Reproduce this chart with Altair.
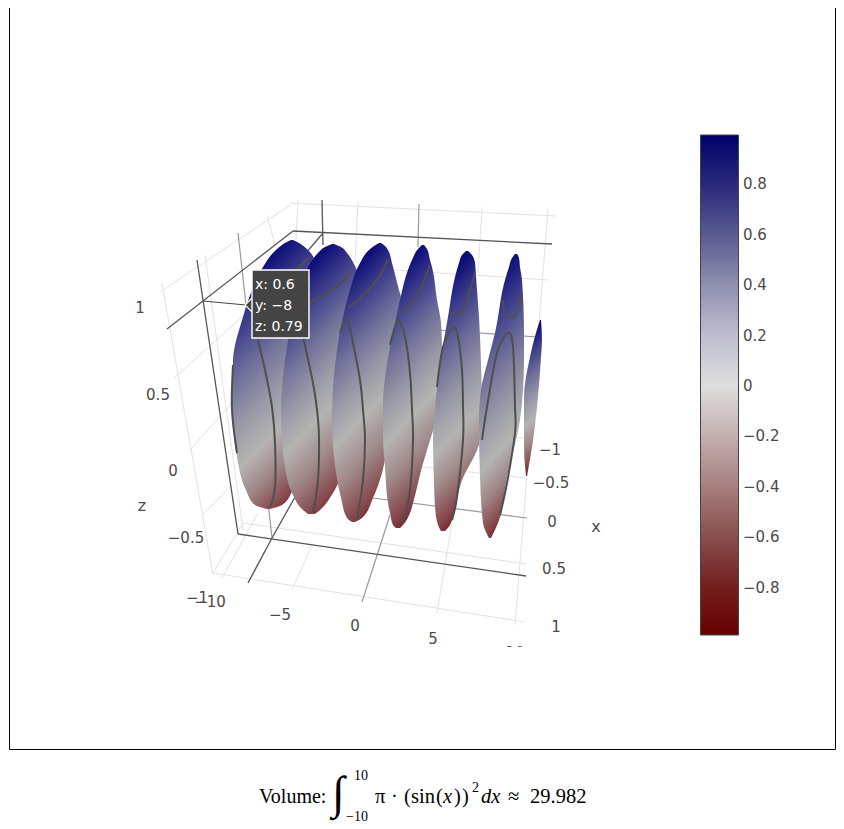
import altair as alt
import pandas as pd

# Page-pixel frame of the 3D scene: everything is projected screen position
W, H = 828, 815
SX = alt.Scale(domain=[8, 836], range=[0, W], nice=False, zero=False)
SY = alt.Scale(domain=[8, 823], range=[0, H], nice=False, zero=False)

# Lobes of the surface of revolution: screen level, left edge, right edge
lobe_levels = [
    [240, 243, 250, 267, 290, 317, 360, 403, 457, 490, 505, 509],
    [244, 247, 253, 262, 280, 347, 377, 417, 467, 493, 510, 514],
    [243, 246, 250, 263, 290, 317, 350, 417, 457, 473, 498, 518, 522],
    [245, 249, 260, 267, 300, 323, 347, 407, 437, 467, 503, 513, 525, 528],
    [251, 255, 263, 277, 317, 363, 410, 483, 507, 525, 531],
    [254, 258, 267, 280, 333, 360, 390, 420, 477, 523, 538],
    [320, 340, 357, 397, 433, 447, 476],
]
lobe_left = [
    [291, 285, 276, 263, 252, 243, 233, 232, 237, 246, 255, 267],
    [332, 325, 318, 311, 302, 287, 283, 281, 285, 292, 303, 308],
    [379, 374, 369, 360, 350, 343, 337, 332, 334, 336, 341, 347, 352],
    [422, 418, 412, 409, 400, 395, 390, 383, 383, 385, 388, 390, 393, 396],
    [466, 462, 459, 455, 448, 440, 435, 434, 435, 438, 441],
    [515, 512, 509, 505, 495, 488, 481, 479, 480, 483, 489],
    [540, 534, 530, 524, 524, 524, 526],
]
lobe_right = [
    [293, 299, 308, 318, 326, 331, 335, 336, 310, 293, 282, 270],
    [334, 341, 347, 353, 360, 372, 375, 372, 345, 333, 320, 315],
    [381, 385, 388, 392, 399, 407, 412, 410, 386, 382, 373, 362, 355],
    [424, 427, 430, 432, 437, 441, 442, 440, 431, 422, 413, 410, 403, 400],
    [468, 472, 475, 476, 479, 481, 482, 480, 461, 455, 450, 445],
    [517, 519, 520, 522, 524, 524, 523, 520, 507, 498, 491],
    [541, 542, 541, 538, 534, 532, 527],
]
lobe_levels[4] = [251, 255, 263, 277, 317, 363, 410, 440, 483, 507, 525, 531]
lobe_left[4] = [466, 462, 459, 455, 448, 440, 435, 433, 434, 435, 438, 441]
# where the grey z=0 band crosses each lobe, and the tilt of the band
lobe_zero = [0.66, 0.60, 0.585, 0.60, 0.64, 0.68, 0.64]
lobe_tilt = [0.38, 0.36, 0.30, 0.22, 0.18, 0.18, 0.10]

# Contour curves on the lobes
contours = [
    [(258, 340), (265, 370), (272, 407), (275, 443), (275, 487), (270, 507)],
    [(308, 258), (300, 266), (293, 272)],
    [(233, 365), (232, 410), (237, 453)],
    [(350, 273), (340, 284), (327, 293), (310, 302)],
    [(303, 337), (313, 383), (317, 410), (319, 437), (318, 480), (313, 512)],
    [(388, 260), (377, 280), (360, 298), (348, 308)],
    [(340, 333), (347, 318), (353, 343), (360, 380), (363, 410), (365, 440), (363, 480), (357, 518)],
    [(430, 265), (420, 290), (408, 307), (398, 313)],
    [(390, 345), (398, 321), (405, 337), (410, 373), (412, 410), (413, 440), (410, 490), (403, 523)],
    [(475, 273), (468, 297), (462, 313), (455, 315), (450, 312)],
    [(437, 387), (443, 347), (453, 328), (458, 337), (462, 370), (463, 407), (463, 440), (457, 497), (452, 520)],
    [(503, 300), (505, 313), (510, 318), (517, 312), (522, 293)],
    [(482, 440), (487, 407), (497, 353), (508, 333), (513, 347), (515, 407), (515, 433), (507, 483), (500, 515)],
]

grid_light = [
    [(160, 292), (290, 205)], [(290, 203), (555, 216)], [(162, 283), (213, 575)],
    [(213, 573), (525, 622)], [(548, 210), (515, 625)], [(175, 377), (250, 310)],
    [(190, 450), (232, 403)], [(202, 515), (230, 487)], [(213, 573), (243, 523)],
    [(243, 523), (526, 564)], [(222, 578), (258, 513)], [(292, 590), (312, 545)],
    [(437, 613), (453, 517)], [(358, 202), (355, 262)], [(482, 207), (478, 273)],
    [(267, 215), (275, 245)], [(298, 200), (296, 240)], [(205, 255), (243, 530)],
    [(395, 270), (548, 280)], [(472, 433), (525, 438)], [(423, 467), (525, 478)],
]
grid_mid = [
    [(419, 204), (418, 247)], [(362, 602), (390, 515)], [(238, 233), (272, 538)],
    [(438, 330), (537, 337)], [(373, 498), (527, 518)],
]
box_dark = [
    [(238, 534), (526, 576)], [(167, 329), (293, 231)], [(293, 231), (552, 244)],
    [(197, 260), (238, 534)], [(322, 200), (323, 245)], [(248, 583), (272, 538)],
    [(272, 538), (295, 497)], [(323, 233), (300, 260)],
]
spike_thin = [[(203, 301), (246, 305)]]

# Tick labels: text, centre x, centre y
z_ticks = [("1", 140, 307), ("0.5", 158, 394), ("0", 173, 470), ("−0.5", 186, 537), ("−1", 197, 597)]
y_ticks = [("−10", 210, 601), ("−5", 280, 614), ("0", 355, 625), ("5", 433, 638), ("10", 515, 652)]
x_ticks = [("−1", 550, 449), ("−0.5", 551, 482), ("0", 552, 521), ("0.5", 554, 568), ("1", 556, 626)]
axis_titles = [("x", 596, 526), ("z", 142, 505)]

# Colour bar
cbar_values = [0.8, 0.6, 0.4, 0.2, 0, -0.2, -0.4, -0.6, -0.8]
cbar_labels = ["0.8", "0.6", "0.4", "0.2", "0", "−0.2", "−0.4", "−0.6", "−0.8"]
cbar_colors = ["#00006b", "#2a2a7c", "#5a5a91", "#8f8fb0", "#bdbdd0", "#dedede",
               "#c4b0b0", "#a88080", "#8a5050", "#752020", "#670000"]
cbar_limit = 0.992

# Hover label
hover_lines = [("x: 0.6", 255, 284), ("y: −8", 255, 305), ("z: 0.79", 255, 326)]

SURF = [(0.0, "#00006e"), (0.12, "#10107a"), (0.28, "#36368a"), (0.55, "#6f6f9a"),
        (0.8, "#9a9aa8"), (1.0, "#b4b4b2"), (1.35, "#a08888"), (1.7, "#86484c"),
        (2.0, "#680612")]
SANS = "DejaVu Sans"
SERIF = "Liberation Serif"
TICK = "#4a4a4a"


def stops_for(zero):
    out = []
    for f, c in SURF:
        o = f * zero if f <= 1 else zero + (f - 1) * (1 - zero)
        out.append(alt.GradientStop(offset=o, color=c))
    return out


def polylines(items, width, color, interpolate="linear"):
    rows = [dict(i=i, k=k, x=p[0], y=p[1]) for i, seg in enumerate(items) for k, p in enumerate(seg)]
    return alt.Chart(pd.DataFrame(rows)).mark_line(strokeWidth=width, color=color, interpolate=interpolate).encode(
        x=alt.X("x:Q", scale=SX, axis=None), y=alt.Y("y:Q", scale=SY, axis=None),
        detail="i:N", order="k:Q")


def texts(items, size, color=TICK, font=SANS, align="center", baseline="middle", **kw):
    df = pd.DataFrame(items, columns=["t", "x", "y"])
    return alt.Chart(df).mark_text(fontSize=size, color=color, font=font, align=align, baseline=baseline, **kw).encode(
        x=alt.X("x:Q", scale=SX, axis=None), y=alt.Y("y:Q", scale=SY, axis=None), text="t:N")


def box(x0, x1, y0, y1, **kw):
    df = pd.DataFrame([dict(x=x0, x2=x1, y=y0, y2=y1)])
    return alt.Chart(df).mark_rect(**kw).encode(
        x=alt.X("x:Q", scale=SX, axis=None), x2="x2:Q",
        y=alt.Y("y:Q", scale=SY, axis=None), y2="y2:Q")


def math(items, size=20.5, **kw):
    return texts(items, size, color="#000000", font=SERIF, align="left", baseline="alphabetic", **kw)


layers = []
# frame
layers.append(polylines([[(9.5, 8), (9.5, 749.5), (835.5, 749.5), (835.5, 8)]], 1, "#000000"))
# scene scaffolding
layers.append(polylines(grid_light, 1, "#e2e2e2"))
layers.append(polylines(grid_mid, 1.2, "#999999"))
layers.append(polylines(box_dark, 1.3, "#555555"))
layers.append(polylines(spike_thin, 1, "#444444"))
# lobes
for lv, le, ri, zero, tilt in zip(lobe_levels, lobe_left, lobe_right, lobe_zero, lobe_tilt):
    df = pd.DataFrame(dict(y=lv, x=le, x2=ri))
    grad = alt.Gradient(gradient="linear", x1=0.5 - tilt / 2, y1=0, x2=0.5 + tilt / 2, y2=1, stops=stops_for(zero))
    layers.append(alt.Chart(df).mark_area(orient="horizontal", interpolate="monotone", color=grad).encode(
        y=alt.Y("y:Q", scale=SY, axis=None), x=alt.X("x:Q", scale=SX, axis=None), x2="x2:Q"))
layers.append(polylines(contours, 2, "#4f4f4f", "cardinal"))
# tick labels
layers.append(texts(z_ticks + y_ticks + x_ticks, 15, dy=1))
layers.append(texts(axis_titles, 16, dy=1))
layers.append(box(100, 620, 647, 662, fill="#ffffff"))
# hover label
arrow = pd.DataFrame(dict(y=[298, 305, 312], x=[252, 245, 252], x2=[253, 253, 253]))
layers.append(alt.Chart(arrow).mark_area(orient="horizontal", color="#444444").encode(
    y=alt.Y("y:Q", scale=SY, axis=None), x=alt.X("x:Q", scale=SX, axis=None), x2="x2:Q"))
layers.append(polylines([[(252, 298), (245, 305), (252, 312)]], 1.2, "#ffffff"))
layers.append(box(252, 309, 270, 338, fill="#444444", stroke="#ffffff", strokeWidth=1.4))
layers.append(texts(hover_lines, 14, color="#ffffff", align="left", dy=1))
# colour bar
cb_scale = alt.Scale(domain=[-cbar_limit, cbar_limit], range=[627, 127], nice=False, zero=False)
cb_grad = alt.Gradient(gradient="linear", x1=0, y1=0, x2=0, y2=1,
                       stops=[alt.GradientStop(offset=i / 10, color=c) for i, c in enumerate(cbar_colors)])
cb_df = pd.DataFrame([dict(x=700.5, x2=738.5, v=-cbar_limit, v2=cbar_limit)])
layers.append(alt.Chart(cb_df).mark_rect(color=cb_grad, stroke="#444444", strokeWidth=1).encode(
    x=alt.X("x:Q", scale=SX, axis=None), x2="x2:Q", y=alt.Y("v:Q", scale=cb_scale, axis=None), y2="v2:Q"))
cb_txt = pd.DataFrame(dict(v=cbar_values, t=cbar_labels, x=[743] * len(cbar_values)))
layers.append(alt.Chart(cb_txt).mark_text(fontSize=15, color=TICK, font=SANS, align="left", baseline="middle", dy=1).encode(
    x=alt.X("x:Q", scale=SX, axis=None), y=alt.Y("v:Q", scale=cb_scale, axis=None), text="t:N"))
# formula
layers.append(math([("Volume:", 259, 803)], 20))
layers.append(math([("∫", 332, 808)], 46))
layers.append(math([("10", 354, 780), ("−10", 346, 821)], 14))
layers.append(math([("π", 375, 803), ("·", 391, 803), ("(", 404, 803), ("sin", 411, 803), ("(", 436, 803),
                    (")", 454, 803), (")", 462, 803), ("≈", 508, 803), ("29.982", 530, 803)]))
layers.append(math([("x", 443, 803), ("dx", 481, 803)], fontStyle="italic"))
layers.append(math([("2", 472, 792)], 14))

chart = alt.layer(*layers).resolve_scale(y="independent").properties(
    width=W, height=H, padding=0, autosize=alt.AutoSizeParams(type="none"),
    background="#ffffff").configure_view(stroke=None)
chart.save("out.html", embed_options={"renderer": "svg", "actions": False})
